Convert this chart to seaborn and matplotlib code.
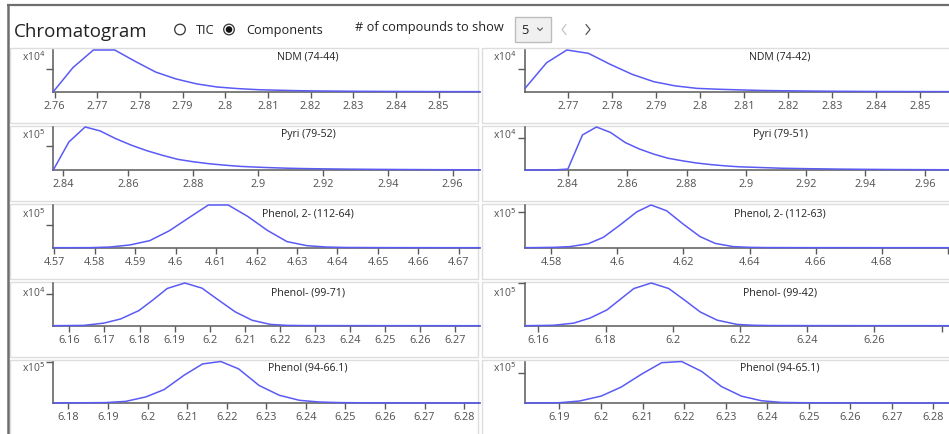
import matplotlib.pyplot as plt
import seaborn as sns
from matplotlib.patches import Rectangle, Circle
from matplotlib.ticker import MultipleLocator, FuncFormatter

# ---- data: retention time (min) and intensity (in units of 10^exp) ----
ndm_44_rt = [2.7597, 2.7643, 2.7691, 2.7741, 2.7789, 2.7837, 2.7885, 2.7933, 2.7981, 2.8029,
             2.8077, 2.8125, 2.8173, 2.8221, 2.8317, 2.8413, 2.8509, 2.8597]
ndm_44_int = [0, 1.08, 1.87, 1.87, 1.36, 0.88, 0.57, 0.35, 0.21, 0.14,
              0.09, 0.065, 0.045, 0.032, 0.017, 0.009, 0.004, 0.002]

ndm_42_rt = [2.7603, 2.7652, 2.7698, 2.7747, 2.7796, 2.7846, 2.7895, 2.7944, 2.7993, 2.8042,
             2.8091, 2.8140, 2.8197, 2.8295, 2.8393, 2.8491, 2.8590]
ndm_42_int = [0.15, 1.30, 1.87, 1.72, 1.23, 0.78, 0.45, 0.26, 0.15, 0.11,
              0.08, 0.055, 0.04, 0.02, 0.01, 0.005, 0.003]

pyri_52_rt = [2.8369, 2.8417, 2.8467, 2.8513, 2.8561, 2.8609, 2.8657, 2.8705, 2.8753, 2.8801,
              2.8849, 2.8897, 2.8945, 2.8993, 2.9041, 2.9089, 2.9137, 2.9185, 2.9281, 2.9377,
              2.9473, 2.9569, 2.9684]
pyri_52_int = [0, 1.16, 1.78, 1.62, 1.30, 1.03, 0.80, 0.61, 0.44, 0.34,
               0.26, 0.20, 0.15, 0.12, 0.095, 0.075, 0.06, 0.05, 0.035, 0.025,
               0.018, 0.012, 0.008]

pyri_51_rt = [2.8257, 2.8305, 2.8353, 2.8401, 2.8450, 2.8497, 2.8544, 2.8594, 2.8641, 2.8689,
              2.8737, 2.8785, 2.8833, 2.8881, 2.8929, 2.8977, 2.9025, 2.9073, 2.9121, 2.9217,
              2.9313, 2.9409, 2.9505, 2.9601, 2.9718]
pyri_51_int = [0, 0, 0, 0.03, 1.10, 1.35, 1.18, 0.86, 0.66, 0.50,
               0.37, 0.29, 0.22, 0.17, 0.13, 0.10, 0.085, 0.07, 0.055, 0.04,
               0.028, 0.02, 0.014, 0.01, 0.007]

phen2_64_rt = [4.5698, 4.5790, 4.5838, 4.5887, 4.5936, 4.5985, 4.6033, 4.6081, 4.6130, 4.6178,
               4.6227, 4.6275, 4.6324, 4.6372, 4.6421, 4.6517, 4.6613, 4.6752]
phen2_64_int = [0, 0.003, 0.03, 0.12, 0.31, 0.75, 1.32, 1.88, 1.88, 1.38,
                0.76, 0.27, 0.09, 0.03, 0.01, 0.004, 0.002, 0]

phen2_63_rt = [4.5721, 4.5808, 4.5857, 4.5912, 4.5958, 4.6008, 4.6059, 4.6102, 4.6149, 4.6199,
               4.6250, 4.6296, 4.6350, 4.6400, 4.6450, 4.6550, 4.6700, 4.7036]
phen2_63_int = [0, 0.01, 0.03, 0.11, 0.29, 0.63, 1.00, 1.19, 1.03, 0.66,
                0.31, 0.12, 0.03, 0.01, 0.004, 0.002, 0.001, 0]

phenm_71_rt = [6.1554, 6.1641, 6.1698, 6.1746, 6.1798, 6.1838, 6.1879, 6.1929, 6.1978, 6.2025,
               6.2073, 6.2121, 6.2173, 6.2220, 6.2270, 6.2370, 6.2500, 6.2771]
phenm_71_int = [0, 0.01, 0.08, 0.21, 0.47, 0.80, 1.16, 1.33, 1.17, 0.80,
                0.43, 0.17, 0.04, 0.01, 0.004, 0.002, 0.001, 0]

phenm_42_rt = [6.1560, 6.1645, 6.1705, 6.1754, 6.1804, 6.1844, 6.1884, 6.1936, 6.1988, 6.2035,
               6.2082, 6.2132, 6.2191, 6.2240, 6.2290, 6.2400, 6.2550, 6.2855]
phenm_42_int = [0, 0.01, 0.06, 0.18, 0.37, 0.62, 0.87, 1.0, 0.87, 0.60,
                0.32, 0.13, 0.03, 0.01, 0.004, 0.002, 0.001, 0]

phen_661_rt = [6.1762, 6.1894, 6.1945, 6.1996, 6.2042, 6.2092, 6.2139, 6.2185, 6.2230, 6.2282,
               6.2333, 6.2384, 6.2434, 6.2484, 6.2560, 6.2700, 6.2840]
phen_661_int = [0, 0.01, 0.04, 0.15, 0.33, 0.68, 0.96, 1.02, 0.84, 0.43,
                0.19, 0.066, 0.024, 0.01, 0.004, 0.001, 0]

phen_651_rt = [6.1817, 6.1900, 6.1948, 6.2000, 6.2048, 6.2098, 6.2146, 6.2194, 6.2242, 6.2290,
               6.2338, 6.2386, 6.2434, 6.2482, 6.2560, 6.2700, 6.2864]
phen_651_int = [0, 0.01, 0.066, 0.23, 0.53, 0.97, 1.35, 1.39, 1.06, 0.55,
                0.23, 0.076, 0.02, 0.01, 0.004, 0.001, 0]

titles = ["NDM (74-44)", "NDM (74-42)", "Pyri (79-52)", "Pyri (79-51)",
          "Phenol, 2- (112-64)", "Phenol, 2- (112-63)", "Phenol- (99-71)", "Phenol- (99-42)",
          "Phenol (94-66.1)", "Phenol (94-65.1)"]
exponents = [4, 4, 5, 4, 5, 5, 4, 5, 5, 5]
series = [(ndm_44_rt, ndm_44_int), (ndm_42_rt, ndm_42_int),
          (pyri_52_rt, pyri_52_int), (pyri_51_rt, pyri_51_int),
          (phen2_64_rt, phen2_64_int), (phen2_63_rt, phen2_63_int),
          (phenm_71_rt, phenm_71_int), (phenm_42_rt, phenm_42_int),
          (phen_661_rt, phen_661_int), (phen_651_rt, phen_651_int)]
y_tops = [1.87, 1.87, 1.78, 1.35, 1.88, 1.19, 1.33, 1.0, 1.02, 1.39]
x_steps = [0.01, 0.01, 0.02, 0.02, 0.01, 0.02, 0.01, 0.02, 0.01, 0.01]

# ---- layout in pixels ----
W, H = 949, 434
LINE = "#5a5af5"
AXC = "#5a5a5a"
TXT = "#222222"
row_axes = [(50, 91.7), (127, 170), (205, 247.7), (283, 325.7), (361.5, 403)]
row_boxes = [(48, 123), (126, 201), (204, 279), (282, 357), (360, 440)]
row_label_y = [57, 135, 214, 293, 368]
col_axes = [(53.3, 480), (525, 960)]
col_boxes = [(10, 478.5), (482, 958)]
title_x = [308, 780]
exp_x = [45, 516]
LABEL_EDGE = 937  # tick labels past this pixel are hidden by the panel edge

sns.set_style("white")
plt.rcParams["font.family"] = ["Open Sans", "DejaVu Sans"]

fig = plt.figure(figsize=(W / 100, H / 100), dpi=100)
bg = fig.add_axes([0, 0, 1, 1])
bg.set_xlim(0, W)
bg.set_ylim(H, 0)
bg.axis("off")

# outer frame of the widget
bg.plot([7, W], [5, 5], color="#6e6e6e", lw=1.6, solid_capstyle="butt")
bg.plot([8, 8], [5, H], color="#6e6e6e", lw=1.8, solid_capstyle="butt")

# header
bg.text(14, 37, "Chromatogram", fontsize=13.5, color=TXT, va="baseline")
bg.add_patch(Circle((180, 29.5), 5.3, fill=False, ec="#333333", lw=0.9))
bg.text(196, 34, "TIC", fontsize=9.2, color=TXT, va="baseline")
bg.add_patch(Circle((229, 29.5), 5.3, fill=False, ec="#333333", lw=0.9))
bg.add_patch(Circle((229, 29.5), 2.6, color="#111111"))
bg.text(246, 34, "Components", fontsize=9.2, color=TXT, va="baseline")
bg.text(355, 31, "# of compounds to show", fontsize=9.2, color=TXT, va="baseline")
bg.add_patch(Rectangle((515, 17), 36, 25, fc="#f0f0f0", ec="#bdbdbd", lw=1))
bg.text(521, 34, "5", fontsize=9.2, color=TXT, va="baseline")
bg.plot([537.5, 540, 542.5], [28, 30.5, 28], color="#555555", lw=0.8)
bg.plot([566, 562, 566], [24.5, 29.5, 34.5], color="#c4c4c4", lw=0.9)
bg.plot([586, 590, 586], [24.5, 29.5, 34.5], color="#555555", lw=0.9)


def make_fmt(x_left, v_left, ppu):
    def f(v, p):
        if x_left + (v - v_left) * ppu > LABEL_EDGE:
            return ""
        return f"{v:.2f}".rstrip("0").rstrip(".")
    return FuncFormatter(f)


for i, (rt, inten) in enumerate(series):
    r, c = divmod(i, 2)
    y0, y1 = row_axes[r]
    x0, x1 = col_axes[c]
    bx0, bx1 = col_boxes[c]
    by0, by1 = row_boxes[r]
    bg.add_patch(Rectangle((bx0, by0), bx1 - bx0, by1 - by0, fill=False, ec="#dddddd", lw=1))

    px_per_unit = (x1 - x0) / (rt[-1] - rt[0])
    ax = fig.add_axes([x0 / W, 1 - y1 / H, (x1 - x0) / W, (y1 - y0) / H])
    ax.set_facecolor("none")
    sns.lineplot(x=rt, y=inten, ax=ax, color=LINE, linewidth=1.1, clip_on=False, zorder=5)
    ax.set_xlim(rt[0], rt[-1])
    ax.set_ylim(0, y_tops[i])
    ax.set_yticks([1])
    ax.set_yticklabels([])
    ax.xaxis.set_major_locator(MultipleLocator(x_steps[i]))
    ax.xaxis.set_major_formatter(make_fmt(x0, rt[0], px_per_unit))
    ax.set_xlabel("")
    ax.set_ylabel("")
    for s in ["top", "right"]:
        ax.spines[s].set_visible(False)
    for s in ["left", "bottom"]:
        ax.spines[s].set_color(AXC)
        ax.spines[s].set_linewidth(1.1)
    ax.tick_params(axis="x", bottom=True, length=4, width=1, color=AXC,
                   labelcolor="#505050", labelsize=7.8, pad=2.5)
    ax.tick_params(axis="y", left=True, length=5, width=1, color=AXC)

    bg.text(title_x[c], row_label_y[r], titles[i], fontsize=7.6, color=TXT,
            ha="center", va="center")
    bg.text(exp_x[c], row_label_y[r], f"x10$^{exponents[i]}$", fontsize=7.4,
            color="#505050", ha="right", va="center")

fig.savefig("out.png", dpi=100)
